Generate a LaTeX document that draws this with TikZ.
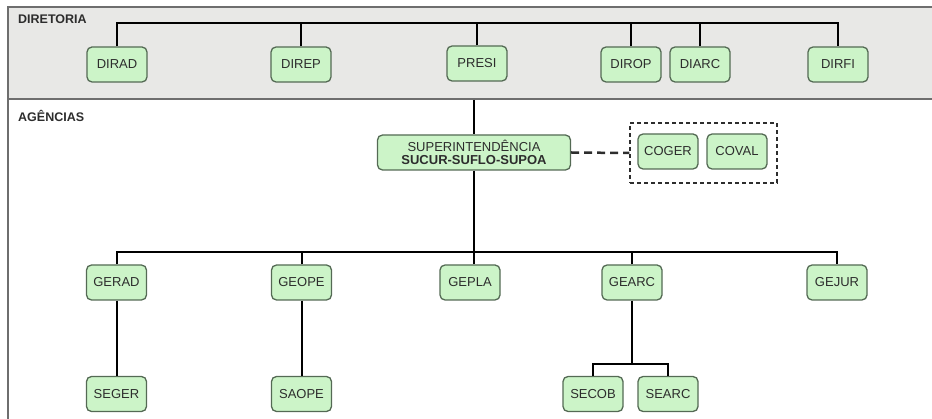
\documentclass[tikz,border=0pt]{standalone}
\usepackage{fontspec}
\setmainfont{Liberation Sans}
\definecolor{boxfill}{RGB}{204,244,200}
\definecolor{boxborder}{RGB}{84,106,84}
\definecolor{textgray}{RGB}{45,45,45}
\definecolor{bandgray}{RGB}{232,232,230}
\definecolor{framegray}{RGB}{110,110,110}
\tikzset{
  unitbox/.style={rounded corners=5pt, draw=boxborder, fill=boxfill, line width=1.3pt,
    minimum width=60pt, minimum height=35pt, inner sep=2pt, text=textgray,
    font=\fontsize{13}{15}\selectfont},
  conn/.style={line width=2pt, black},
  seclabel/.style={anchor=north west, inner sep=0pt, text=textgray,
    font=\fontsize{12.5}{14}\selectfont\bfseries},
}
\begin{document}
\begin{tikzpicture}[x=1pt,y=-1pt]
\useasboundingbox (0,0) rectangle (932,419);
% bands and frame
\fill[bandgray] (8,7) rectangle (932,99);
\draw[framegray, line width=1.6pt] (932,7) -- (8,7) -- (8,419);
\draw[framegray, line width=1.6pt] (8,99) -- (932,99);
\node[seclabel] (lbldir) at (18,15) {DIRETORIA};
\node[seclabel] (lblage) at (18,110) {AGÊNCIAS};
% directorate
\node[unitbox] (DIRAD) at (117,64.5) {DIRAD};
\node[unitbox] (DIREP) at (301,64.5) {DIREP};
\node[unitbox] (PRESI) at (477,63.5) {PRESI};
\node[unitbox] (DIROP) at (631,64.5) {DIROP};
\node[unitbox] (DIARC) at (700,64.5) {DIARC};
\node[unitbox] (DIRFI) at (838,64.5) {DIRFI};
\draw[conn] (DIRAD.north) -- (DIRAD.north |- 0,23) -- (DIRFI.north |- 0,23) -- (DIRFI.north);
\foreach \n in {DIREP,PRESI,DIROP,DIARC} \draw[conn] (\n.north) -- (\n.north |- 0,23);
% superintendencia
\coordinate (presib) at (474,100);
\node[unitbox, minimum width=193pt, align=center, inner sep=1pt,
  font=\fontsize{13}{13.5}\selectfont] (SUPER) at (474,152.5)
  {SUPERINTENDÊNCIA\\\textbf{SUCUR-SUFLO-SUPOA}};
\draw[conn] (presib) -- (SUPER.north);
\node[draw=textgray, line width=1.2pt, dash pattern=on 4pt off 3pt,
  minimum width=147pt, minimum height=60pt, inner sep=0pt] (DBOX) at (703.5,153) {};
\node[unitbox] (COGER) at (668,151.5) {COGER};
\node[unitbox] (COVAL) at (737,151.5) {COVAL};
\draw[line width=2.5pt, textgray, dash pattern=on 8pt off 5pt] (SUPER.east) -- (DBOX.west);
% managements
\node[unitbox] (GERAD) at (116.5,282.5) {GERAD};
\node[unitbox] (GEOPE) at (301.5,282.5) {GEOPE};
\node[unitbox] (GEPLA) at (470,282.5) {GEPLA};
\node[unitbox] (GEARC) at (632,282.5) {GEARC};
\node[unitbox] (GEJUR) at (837,282.5) {GEJUR};
\draw[conn] (SUPER.south) -- (SUPER.south |- 0,252);
\draw[conn] (GERAD.north) -- (GERAD.north |- 0,252) -- (GEJUR.north |- 0,252) -- (GEJUR.north);
\draw[conn] (GEOPE.north) -- (GEOPE.north |- 0,252);
\draw[conn] (GEPLA.north -| SUPER.south) -- (SUPER.south |- 0,252);
\draw[conn] (GEARC.north) -- (GEARC.north |- 0,252);
% sections
\node[unitbox] (SEGER) at (116.5,394) {SEGER};
\node[unitbox] (SAOPE) at (301.5,394) {SAOPE};
\node[unitbox] (SECOB) at (593,394) {SECOB};
\node[unitbox] (SEARC) at (668,394) {SEARC};
\draw[conn] (GERAD.south) -- (SEGER.north);
\draw[conn] (GEOPE.south) -- (SAOPE.north);
\draw[conn] (GEARC.south) -- (GEARC.south |- 0,364);
\draw[conn] (SECOB.north) -- (SECOB.north |- 0,364) -- (SEARC.north |- 0,364) -- (SEARC.north);
\end{tikzpicture}
\end{document}
